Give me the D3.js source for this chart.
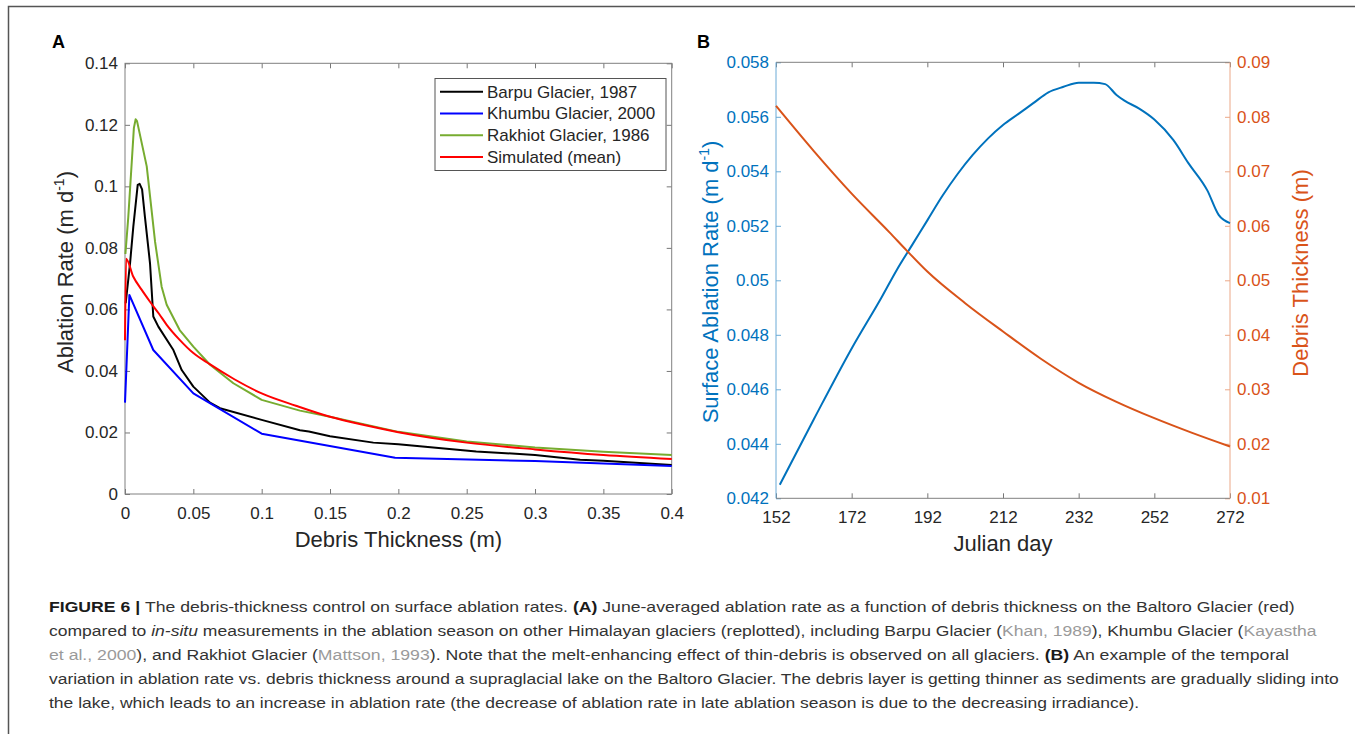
<!DOCTYPE html>
<meta charset="utf-8">
<script src="https://d3js.org/d3.v7.min.js"></script>
<body style="margin:0; background:#fff">
<div id="fig"></div>
</body>
<script>

    // ---- Panel A: ablation rate vs debris thickness ----
    var barpuX = [0.0005, 0.0037, 0.0061, 0.0093, 0.0107, 0.0125, 0.0146, 0.0183, 0.0207, 0.0244, 0.0354, 0.0415, 0.05, 0.0622, 0.0695, 0.1, 0.128, 0.1345, 0.15, 0.1817, 0.2, 0.257, 0.3, 0.333, 0.35, 0.4];
    var barpuY = [0.062, 0.075, 0.087, 0.1005, 0.1008, 0.099, 0.090, 0.075, 0.0577, 0.0544, 0.0468, 0.0403, 0.0349, 0.0297, 0.0279, 0.0241, 0.0207, 0.0203, 0.0188, 0.0167, 0.0162, 0.0138, 0.0127, 0.0111, 0.0108, 0.0094];

    var khumbuX = [0, 0.0032, 0.0207, 0.05, 0.1, 0.1976, 0.3, 0.4];
    var khumbuY = [0.0297, 0.0647, 0.0468, 0.0327, 0.0196, 0.0118, 0.0107, 0.0091];

    var rakhiotX = [0.0003, 0.0024, 0.0049, 0.0065, 0.0078, 0.0088, 0.0159, 0.022, 0.0268, 0.0305, 0.04, 0.05, 0.0622, 0.0793, 0.1, 0.128, 0.15, 0.2, 0.25, 0.3, 0.35, 0.4];
    var rakhiotY = [0.078, 0.090, 0.1076, 0.119, 0.1218, 0.1212, 0.1065, 0.082, 0.0674, 0.0615, 0.0533, 0.0479, 0.042, 0.036, 0.0306, 0.0271, 0.0251, 0.0202, 0.0171, 0.0151, 0.0137, 0.0127];

    var simX = [0, 0.0008, 0.006, 0.012, 0.0183, 0.025, 0.0305, 0.04, 0.05, 0.062, 0.08, 0.1, 0.125, 0.15, 0.175, 0.2, 0.25, 0.3, 0.35, 0.4];
    var simY = [0.050, 0.0765, 0.0707, 0.0665, 0.0625, 0.0585, 0.055, 0.0501, 0.0458, 0.0422, 0.0373, 0.0327, 0.0287, 0.0251, 0.0224, 0.0201, 0.0167, 0.0145, 0.0127, 0.0114];

    var legendNames = ["Barpu Glacier, 1987", "Khumbu Glacier, 2000", "Rakhiot Glacier, 1986", "Simulated (mean)"];
    var legendColors = ["#000000", "#0000ff", "#77ac30", "#ff0000"];

    var aXTicks = [0, 0.05, 0.1, 0.15, 0.2, 0.25, 0.3, 0.35, 0.4];
    var aYTicks = [0, 0.02, 0.04, 0.06, 0.08, 0.1, 0.12, 0.14];

    // ---- Panel B: temporal variation ----
    var rateDays = [153, 162, 172, 180, 184, 188, 192, 196, 200, 204, 208, 212, 216, 220, 224, 228, 232, 236, 239, 242, 244, 248, 252, 257, 261, 266, 269, 272];
    var rateVals = [0.0425, 0.0449, 0.0475, 0.0494, 0.0504, 0.0513, 0.0522, 0.0531, 0.0539, 0.0546, 0.0552, 0.0557, 0.0561, 0.0565, 0.0569, 0.0571, 0.05725, 0.05725, 0.0572, 0.0568, 0.0566, 0.0563, 0.0559, 0.05515, 0.0543, 0.0533, 0.0524, 0.0521];

    var debrisDays = [152, 162, 172, 182, 186.5, 192, 202, 212, 222, 232, 242, 252, 262, 272];
    var debrisVals = [0.0820, 0.0737, 0.0659, 0.0588, 0.0555, 0.0516, 0.0458, 0.0406, 0.0356, 0.0312, 0.0277, 0.0247, 0.0220, 0.0195];

    var bXTicks = [152, 172, 192, 212, 232, 252, 272];
    var bLeftTicks = [0.042, 0.044, 0.046, 0.048, 0.05, 0.052, 0.054, 0.056, 0.058];
    var bRightTicks = [0.01, 0.02, 0.03, 0.04, 0.05, 0.06, 0.07, 0.08, 0.09];

    // ---- Caption ----
    var captionLines = [
        [["FIGURE 6 | ", "b"], ["The debris-thickness control on surface ablation rates. ", ""], ["(A)", "b"], [" June-averaged ablation rate as a function of debris thickness on the Baltoro Glacier (red)", ""]],
        [["compared to ", ""], ["in-situ", "i"], [" measurements in the ablation season on other Himalayan glaciers (replotted), including Barpu Glacier (", ""], ["Khan, 1989", "g"], ["), Khumbu Glacier (", ""], ["Kayastha", "g"]],
        [["et al., 2000", "g"], ["), and Rakhiot Glacier (", ""], ["Mattson, 1993", "g"], ["). Note that the melt-enhancing effect of thin-debris is observed on all glaciers. ", ""], ["(B)", "b"], [" An example of the temporal", ""]],
        [["variation in ablation rate vs. debris thickness around a supraglacial lake on the Baltoro Glacier. The debris layer is getting thinner as sediments are gradually sliding into", ""]],
        [["the lake, which leads to an increase in ablation rate (the decrease of ablation rate in late ablation season is due to the decreasing irradiance).", ""]]
    ];
    var captionEnds = [1295, 1318, 1290, 1340, 1140];

    var font = "'Liberation Sans', Arial, sans-serif";
    var fmt = function (d) { return String(+d.toFixed(3)); };
    var zip = function (xs, ys) { return xs.map(function (v, i) { return [v, ys[i]]; }); };

    var svg = d3.select("#fig")
        .append("svg")
        .attr("width", 1355)
        .attr("height", 734)
        .style("background", "#fff");

    // page frame (top + left rule)
    svg.append("path")
        .attr("d", "M8.5,734V6.5H1355")
        .attr("fill", "none")
        .attr("stroke", "#555")
        .attr("stroke-width", 1.5);

    // style an axis group
    function styleAxis(g, lineColor, textColor) {
        g.attr("font-size", 17).attr("font-family", font);
        g.select(".domain").remove();
        g.selectAll("line").attr("stroke", lineColor);
        g.selectAll("text").attr("fill", textColor);
    }

    // ================= Panel A =================
    var xA = d3.scaleLinear().domain([0, 0.4]).range([125, 671.7]);
    var yA = d3.scaleLinear().domain([0, 0.14]).range([494, 63.3]);

    var gA = svg.append("g");

    gA.append("g")
        .attr("transform", "translate(0,494)")
        .call(d3.axisBottom(xA).tickValues(aXTicks).tickFormat(fmt).tickSizeInner(-5).tickSizeOuter(0).tickPadding(13))
        .call(styleAxis, "#777", "#262626");
    gA.append("g")
        .attr("transform", "translate(0,63.3)")
        .call(d3.axisTop(xA).tickValues(aXTicks).tickFormat("").tickSizeInner(-5).tickSizeOuter(0))
        .call(styleAxis, "#777", "#262626");
    gA.append("g")
        .attr("transform", "translate(125,0)")
        .call(d3.axisLeft(yA).tickValues(aYTicks).tickFormat(fmt).tickSizeInner(-5).tickSizeOuter(0).tickPadding(7))
        .call(styleAxis, "#777", "#262626");
    gA.append("g")
        .attr("transform", "translate(671.7,0)")
        .call(d3.axisRight(yA).tickValues(aYTicks).tickFormat("").tickSizeInner(-5).tickSizeOuter(0))
        .call(styleAxis, "#777", "#262626");

    // box
    gA.append("rect")
        .attr("x", 125).attr("y", 63.3)
        .attr("width", 671.7 - 125).attr("height", 494 - 63.3)
        .attr("fill", "none").attr("stroke", "#808080").attr("stroke-width", 1);

    var lineA = d3.line()
        .x(function (d) { return xA(d[0]); })
        .y(function (d) { return yA(d[1]); });

    var seriesA = [zip(barpuX, barpuY), zip(khumbuX, khumbuY), zip(rakhiotX, rakhiotY), zip(simX, simY)];
    seriesA.forEach(function (s, i) {
        gA.append("path")
            .datum(s)
            .attr("fill", "none")
            .attr("stroke", legendColors[i])
            .attr("stroke-width", 2)
            .attr("stroke-linejoin", "round")
            .attr("d", i == 3 ? lineA.curve(d3.curveMonotoneX)(s) : lineA.curve(d3.curveLinear)(s));
    });

    // legend
    var leg = gA.append("g");
    leg.append("rect")
        .attr("x", 435).attr("y", 78.5).attr("width", 231).attr("height", 92)
        .attr("fill", "#fff").attr("stroke", "#555").attr("stroke-width", 1);
    legendNames.forEach(function (name, i) {
        var ly = 91.7 + i * 21.8;
        leg.append("line")
            .attr("x1", 440).attr("x2", 483).attr("y1", ly).attr("y2", ly)
            .attr("stroke", legendColors[i]).attr("stroke-width", 2);
        leg.append("text")
            .attr("x", 487).attr("y", ly).attr("dy", "0.35em")
            .attr("font-size", 17).attr("font-family", font).attr("fill", "#262626")
            .text(name);
    });

    // axis titles
    gA.append("text")
        .attr("x", 398.4).attr("y", 547)
        .attr("text-anchor", "middle")
        .attr("font-size", 22).attr("font-family", font).attr("fill", "#262626")
        .text("Debris Thickness (m)");
    var yTitleA = gA.append("text")
        .attr("transform", "translate(73,272) rotate(-90)")
        .attr("text-anchor", "middle")
        .attr("font-size", 22).attr("font-family", font).attr("fill", "#262626");
    yTitleA.append("tspan").text("Ablation Rate (m d");
    yTitleA.append("tspan").attr("font-size", 14).attr("dy", -9).text("-1");
    yTitleA.append("tspan").attr("dy", 9).text(")");

    gA.append("text")
        .attr("x", 52).attr("y", 48)
        .attr("font-size", 18).attr("font-weight", "bold").attr("font-family", font)
        .text("A");

    // ================= Panel B =================
    var blue = "#0072bd", orange = "#d95319";
    var xB = d3.scaleLinear().domain([152, 272]).range([776, 1230]);
    var yBL = d3.scaleLinear().domain([0.042, 0.058]).range([498.3, 62.3]);
    var yBR = d3.scaleLinear().domain([0.01, 0.09]).range([498.3, 62.3]);

    var gB = svg.append("g");

    gB.append("g")
        .attr("transform", "translate(0,498.3)")
        .call(d3.axisBottom(xB).tickValues(bXTicks).tickSizeInner(-5).tickSizeOuter(0).tickPadding(13))
        .call(styleAxis, "#777", "#262626");
    gB.append("g")
        .attr("transform", "translate(0,62.3)")
        .call(d3.axisTop(xB).tickValues(bXTicks).tickFormat("").tickSizeInner(-5).tickSizeOuter(0))
        .call(styleAxis, "#777", "#262626");
    gB.append("g")
        .attr("transform", "translate(776,0)")
        .call(d3.axisLeft(yBL).tickValues(bLeftTicks).tickFormat(fmt).tickSizeInner(-5).tickSizeOuter(0).tickPadding(7))
        .call(styleAxis, "#6aaad6", blue);
    gB.append("g")
        .attr("transform", "translate(1230,0)")
        .call(d3.axisRight(yBR).tickValues(bRightTicks).tickFormat(fmt).tickSizeInner(-5).tickSizeOuter(0).tickPadding(7))
        .call(styleAxis, "#eba888", orange);

    // box: top/bottom grey, sides coloured
    gB.append("line").attr("x1", 776).attr("x2", 1230).attr("y1", 62.3).attr("y2", 62.3).attr("stroke", "#808080");
    gB.append("line").attr("x1", 776).attr("x2", 1230).attr("y1", 498.3).attr("y2", 498.3).attr("stroke", "#808080");
    gB.append("line").attr("x1", 776).attr("x2", 776).attr("y1", 62.3).attr("y2", 498.3).attr("stroke", "#6aaad6");
    gB.append("line").attr("x1", 1230).attr("x2", 1230).attr("y1", 62.3).attr("y2", 498.3).attr("stroke", "#eba888");

    var lineBL = d3.line()
        .x(function (d) { return xB(d[0]); })
        .y(function (d) { return yBL(d[1]); })
        .curve(d3.curveMonotoneX);
    var lineBR = d3.line()
        .x(function (d) { return xB(d[0]); })
        .y(function (d) { return yBR(d[1]); })
        .curve(d3.curveMonotoneX);

    gB.append("path")
        .datum(zip(rateDays, rateVals))
        .attr("fill", "none").attr("stroke", blue).attr("stroke-width", 2)
        .attr("d", lineBL);
    gB.append("path")
        .datum(zip(debrisDays, debrisVals))
        .attr("fill", "none").attr("stroke", orange).attr("stroke-width", 2)
        .attr("d", lineBR);

    gB.append("text")
        .attr("x", 1003).attr("y", 551)
        .attr("text-anchor", "middle")
        .attr("font-size", 22).attr("font-family", font).attr("fill", "#262626")
        .text("Julian day");
    var yTitleB = gB.append("text")
        .attr("transform", "translate(718,282) rotate(-90)")
        .attr("text-anchor", "middle")
        .attr("font-size", 22).attr("font-family", font).attr("fill", blue);
    yTitleB.append("tspan").text("Surface Ablation Rate (m d");
    yTitleB.append("tspan").attr("font-size", 14).attr("dy", -9).text("-1");
    yTitleB.append("tspan").attr("dy", 9).text(")");
    gB.append("text")
        .attr("transform", "translate(1308,273) rotate(-90)")
        .attr("text-anchor", "middle")
        .attr("font-size", 22).attr("font-family", font).attr("fill", orange)
        .text("Debris Thickness (m)");

    gB.append("text")
        .attr("x", 697).attr("y", 48)
        .attr("font-size", 18).attr("font-weight", "bold").attr("font-family", font)
        .text("B");

    // ================= Caption =================
    captionLines.forEach(function (line, i) {
        var t = svg.append("text")
            .attr("font-size", 15)
            .attr("font-family", "'Liberation Sans Narrow', 'Liberation Sans', Arial, sans-serif")
            .attr("fill", "#333")
            .style("white-space", "pre");
        line.forEach(function (s) {
            var ts = t.append("tspan").text(s[0]);
            if (s[1] == "b") ts.attr("font-weight", "bold").attr("fill", "#1a1a1a");
            if (s[1] == "i") ts.attr("font-style", "italic");
            if (s[1] == "g") ts.attr("fill", "#9a9a9a");
        });
        var w = t.node().getComputedTextLength();
        var k = (captionEnds[i] - 49) / w;
        t.attr("transform", "translate(49," + (612 + i * 24) + ") scale(" + k + ",1)");
    });

</script>
